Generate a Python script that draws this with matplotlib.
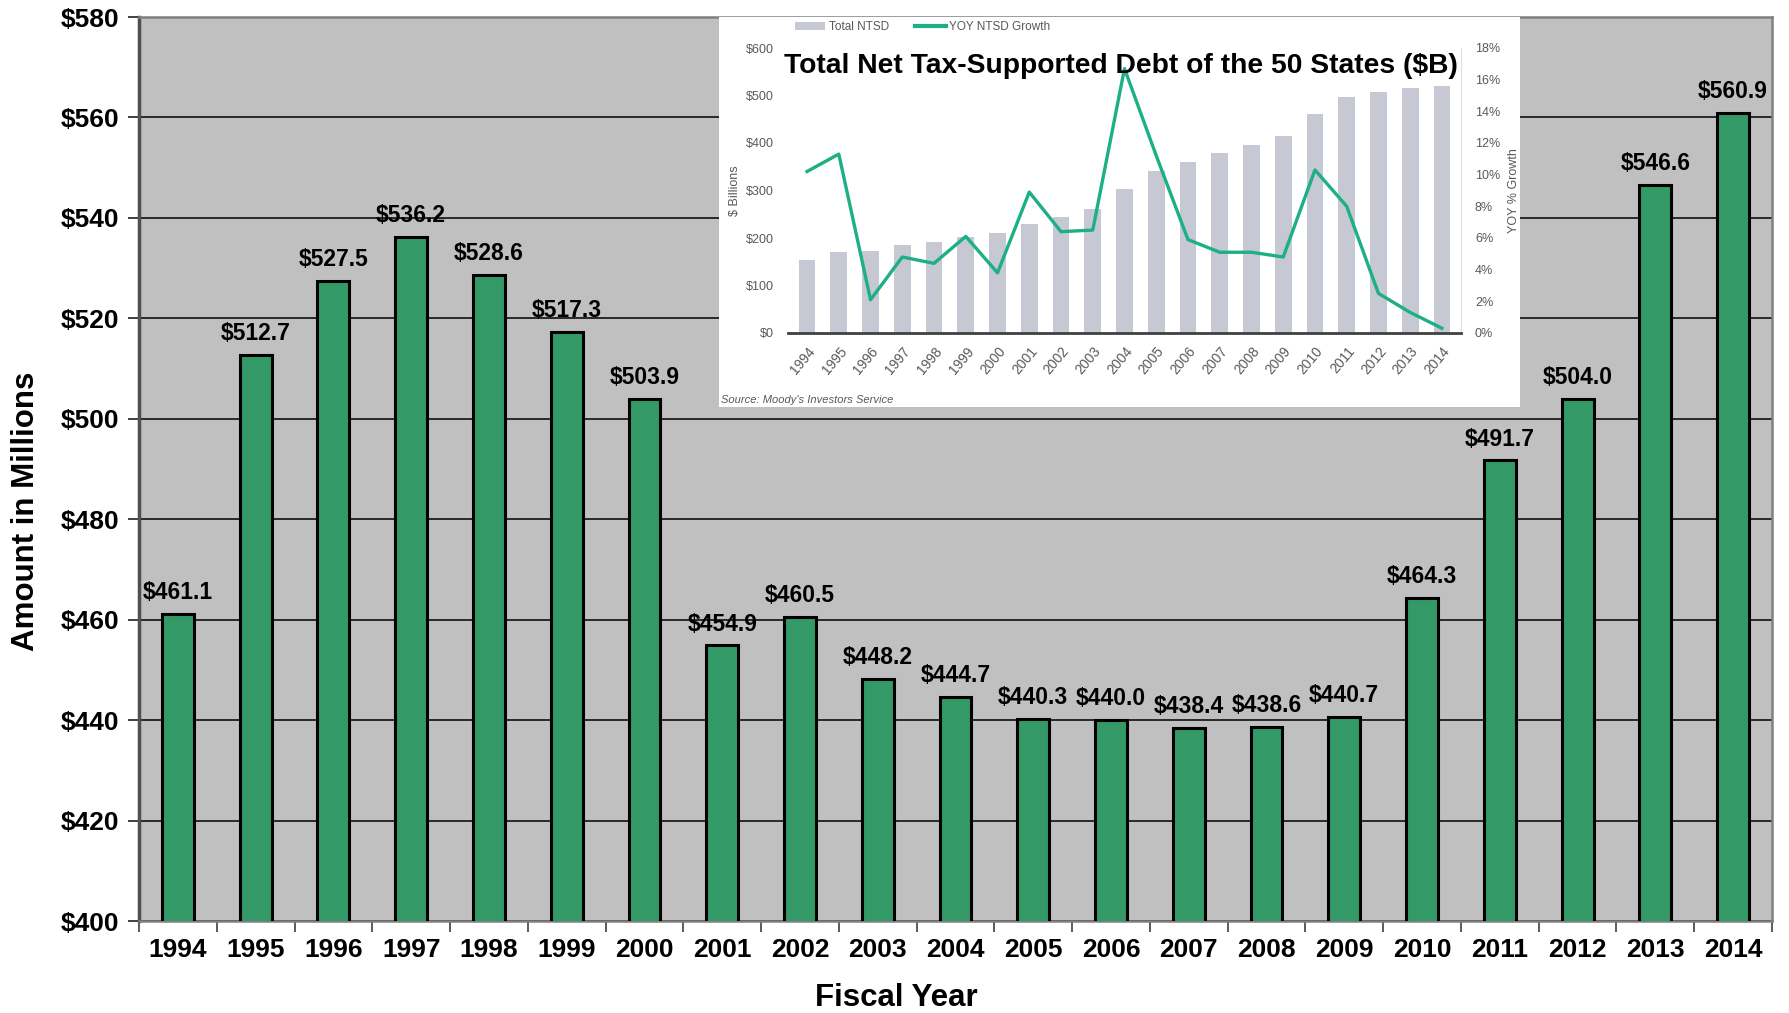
import matplotlib
matplotlib.use("Agg")
import matplotlib.pyplot as plt
from matplotlib.patches import Patch
from matplotlib.lines import Line2D
import numpy as np

# main chart data (amount in millions)
years = ["1994", "1995", "1996", "1997", "1998", "1999", "2000", "2001", "2002", "2003",
         "2004", "2005", "2006", "2007", "2008", "2009", "2010", "2011", "2012", "2013", "2014"]
amounts = [461.1, 512.7, 527.5, 536.2, 528.6, 517.3, 503.9, 454.9, 460.5, 448.2,
           444.7, 440.3, 440.0, 438.4, 438.6, 440.7, 464.3, 491.7, 504.0, 546.6, 560.9]

# inset data (Moody's): total NTSD in $B and YOY growth in %
ntsd_total = [154, 170, 173, 186, 192, 203, 211, 229, 244, 260,
              304, 340, 359, 378, 396, 414, 460, 497, 507, 516, 519]
ntsd_growth = [10.2, 11.3, 2.1, 4.8, 4.4, 6.1, 3.8, 8.9, 6.4, 6.5,
               16.7, 11.2, 5.9, 5.1, 5.1, 4.8, 10.3, 8.0, 2.5, 1.3, 0.3]

W, H = 1789, 1013
fig = plt.figure(figsize=(W / 100, H / 100), dpi=100)
plt.rcParams["font.family"] = ["Liberation Sans", "DejaVu Sans"]

# ---- main chart
ax = fig.add_axes([139 / W, 1 - 921 / H, (1772 - 139) / W, (921 - 17) / H])
ax.set_facecolor("#C0C0C0")
x = np.arange(len(years))
ax.bar(x, amounts, width=0.41, color="#339966", edgecolor="black", linewidth=2.2, zorder=3)
ax.set_xlim(-0.5, len(years) - 0.5)
ax.set_ylim(400, 580)
yt = np.arange(400, 581, 20)
ax.set_yticks(yt)
ax.set_yticklabels(["$%d" % v for v in yt], fontsize=19, fontweight="bold")
ax.set_xticks(x)
ax.set_xticklabels(years, fontsize=19, fontweight="bold")
ax.set_xticks(np.arange(-0.5, len(years)), minor=True)
ax.tick_params(axis="x", which="major", length=0, pad=12)
ax.tick_params(axis="x", which="minor", length=8, width=1.2, color="#404040")
ax.tick_params(axis="y", length=8, width=1.2, color="#202020", pad=6)
ax.grid(axis="y", color="black", linewidth=1.1, zorder=1)
ax.set_axisbelow(True)
for s in ax.spines.values():
    s.set_color("#808080")
    s.set_linewidth(1.8)
ax.spines["left"].set_color("#505050")
ax.spines["left"].set_linewidth(2.5)

for xi, v in zip(x, amounts):
    ax.annotate("$%.1f" % v, (xi, v), xytext=(0, 7), textcoords="offset points",
                ha="center", va="bottom", fontsize=16.5, fontweight="bold", zorder=4)

fig.text(26 / W, 1 - 511 / H, "Amount in Millions", rotation=90, ha="center", va="center",
         fontsize=22.5, fontweight="bold")
fig.text(896 / W, 1 - 998 / H, "Fiscal Year", ha="center", va="center",
         fontsize=22.5, fontweight="bold")

# ---- inset (pasted Moody's chart)
box = fig.add_axes([719 / W, 1 - 407 / H, (1520 - 719) / W, (407 - 17) / H])
box.set_facecolor("white")
box.set_xticks([])
box.set_yticks([])
for s in box.spines.values():
    s.set_visible(False)

gray_txt = "#595959"

ax_in = fig.add_axes([788 / W, 1 - 333 / H, (1461 - 788) / W, (333 - 48) / H])
ax_in.set_facecolor("white")
ax_in.bar(x, ntsd_total, width=0.53, color="#C6C9D4", zorder=2)
ax_in.set_xlim(-0.6, len(years) - 0.4)
ax_in.set_ylim(0, 600)
ax_in.set_yticks(np.arange(0, 601, 100))
ax_in.set_yticklabels(["$%d" % v for v in range(0, 601, 100)], fontsize=9, color=gray_txt)
ax_in.set_xticks(x)
ax_in.set_xticklabels(years, rotation=50, ha="right", rotation_mode="anchor",
                      fontsize=10, color=gray_txt)
ax_in.tick_params(length=0, pad=10)
ax_in.tick_params(axis="x", pad=8)
for side in ["top", "left"]:
    ax_in.spines[side].set_visible(False)
ax_in.spines["right"].set_color("#E0E0E0")
ax_in.spines["bottom"].set_color("#404040")
ax_in.spines["bottom"].set_linewidth(2)
ax_in.set_ylabel("$ Billions", fontsize=9, color=gray_txt, labelpad=4)

ax_r = ax_in.twinx()
ax_r.plot(x, ntsd_growth, color="#1DAF85", linewidth=2.4, zorder=3)
ax_r.set_ylim(0, 18)
ax_r.set_yticks(np.arange(0, 19, 2))
ax_r.set_yticklabels(["%d%%" % v for v in range(0, 19, 2)], fontsize=9, color=gray_txt)
ax_r.tick_params(length=0, pad=10)
for s in ax_r.spines.values():
    s.set_visible(False)
ax_r.set_ylabel("YOY % Growth", fontsize=9, color=gray_txt, labelpad=6)

handles = [Patch(facecolor="#C6C9D4", edgecolor="none"),
           Line2D([0], [0], color="#1DAF85", linewidth=3)]
leg = fig.legend(handles, ["Total NTSD", "YOY NTSD Growth"], loc="center left",
                 bbox_to_anchor=(790 / W, 1 - 27 / H), ncol=2, frameon=False,
                 borderaxespad=0, handlelength=2.6, handletextpad=0.3, columnspacing=2.2,
                 prop={"size": 8.5})
for t in leg.get_texts():
    t.set_color(gray_txt)

fig.text(1121 / W, 1 - 66 / H, "Total Net Tax-Supported Debt of the 50 States ($B)",
         ha="center", va="center", fontsize=20.3, fontweight="bold", zorder=10)
fig.text(721 / W, 1 - 400 / H, "Source: Moody's Investors Service", ha="left", va="center",
         fontsize=8, style="italic", color=gray_txt)

fig.savefig("out.png", dpi=100)
